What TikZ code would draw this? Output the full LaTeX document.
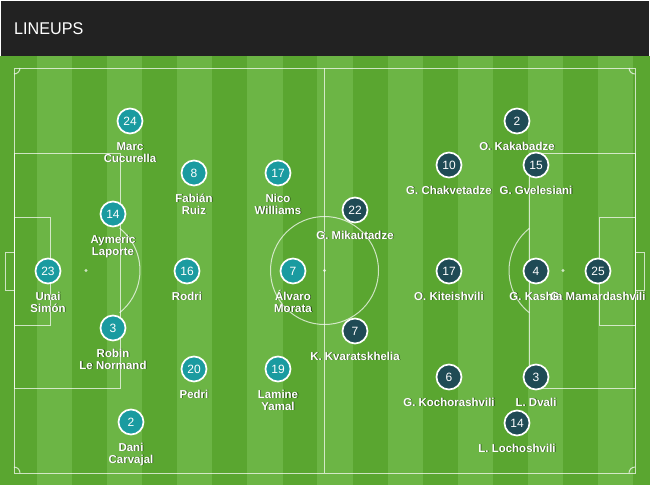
\documentclass[tikz,border=0pt]{standalone}
\usepackage{fontspec}
\setmainfont{Liberation Sans}
\usetikzlibrary{calc}
\definecolor{hdr}{HTML}{222222}
\definecolor{gdark}{HTML}{5AA630}
\definecolor{glight}{HTML}{6CB545}
\definecolor{esp}{HTML}{1A9BA0}
\definecolor{geo}{HTML}{1F4B55}
\tikzset{
  pline/.style={draw=white, draw opacity=0.7, line width=1pt},
  pspot/.style={fill=white, fill opacity=0.7},
  player/.style={circle, minimum size=25pt, inner sep=0pt, draw=white, line width=1.7pt,
    text=white, font=\fontsize{12}{12}\selectfont},
  lbl/.style={text=white, inner sep=0pt, anchor=base, font=\bfseries\fontsize{11.5}{12}\selectfont},
  lblshadow/.style={lbl, text=black, text opacity=0.55},
}
\begin{document}
\begin{tikzpicture}[x=1pt,y=-1pt]
\useasboundingbox (0,0) rectangle (650,485);
\fill[white] (0,0) rectangle (650,485);
% header
\fill[hdr] (1,1) rectangle (649,56);
\node[anchor=west, text=white, inner sep=0pt, xscale=0.95, font=\fontsize{17}{17}\selectfont] (title) at (14,28.5) {LINEUPS};
% pitch stripes
\fill[gdark] (0,56) rectangle (650,485);
\foreach \k in {0,...,8}{
  \fill[glight] ({37+70.1*\k},56) rectangle ({72.2+70.1*\k},485);
}
% pitch markings
\draw[pline] (14,68) rectangle (635,473);
\draw[pline] (324.5,68) -- (324.5,473);
\draw[pline] (324.5,270.5) circle (54);
\fill[pspot] (324.5,270.5) circle (1.6);
% left side
\draw[pline] (14,153) rectangle (120,388);
\draw[pline] (14,217) rectangle (50,325);
\draw[pline] (5,252) rectangle (14,290);
\fill[pspot] (86,270.5) circle (1.6);
\draw[pline] (119.6,228.2) arc[start angle=-51.5, end angle=51.5, radius=54];
% right side
\draw[pline] (529,153) rectangle (635,388);
\draw[pline] (599,217) rectangle (635,325);
\draw[pline] (635,252) rectangle (644,290);
\fill[pspot] (563,270.5) circle (1.6);
\draw[pline] (529.4,312.8) arc[start angle=128.5, end angle=231.5, radius=54];
% corner arcs
\draw[pline] (20,68) arc[start angle=0, end angle=90, radius=6];
\draw[pline] (629,68) arc[start angle=180, end angle=90, radius=6];
\draw[pline] (20,473) arc[start angle=0, end angle=-90, radius=6];
\draw[pline] (629,473) arc[start angle=180, end angle=270, radius=6];
% players: number circle and first label line
\foreach \id/\x/\y/\n/\c/\la in {
  e24/130/121/24/esp/Marc,
  e8/194/173/8/esp/Fabián,
  e17/278/173/17/esp/Nico,
  e14/113/214/14/esp/Aymeric,
  e23/48/271/23/esp/Unai,
  e16/187/271/16/esp/Rodri,
  e7/293/271/7/esp/Álvaro,
  e3/113/328/3/esp/Robin,
  e20/194/369/20/esp/Pedri,
  e19/278/369/19/esp/Lamine,
  e2/131/422/2/esp/Dani,
  g2/517/121/2/geo/O. Kakabadze,
  g10/449/165/10/geo/G. Chakvetadze,
  g15/536/165/15/geo/G. Gvelesiani,
  g22/355/210/22/geo/G. Mikautadze,
  g17/449/271/17/geo/O. Kiteishvili,
  g4/536/271/4/geo/G. Kashia,
  g25/598/271/25/geo/G. Mamardashvili,
  g7/355/331/7/geo/K. Kvaratskhelia,
  g6/449/377/6/geo/G. Kochorashvili,
  g3/536/377/3/geo/L. Dvali,
  g14/517/423/14/geo/L. Lochoshvili}{
  \node[player, fill=\c] (\id) at (\x,\y) {\n};
  \node[lblshadow] (\id s) at ($(\id)+(0.8,29.8)$) {\la};
  \node[lbl] (\id a) at ($(\id)+(0,29)$) {\la};
}
% second label lines
\foreach \id/\lb in {
  e24/Cucurella, e8/Ruiz, e17/Williams, e14/Laporte, e23/Simón,
  e7/Morata, e3/Le Normand, e19/Yamal, e2/Carvajal}{
  \node[lblshadow] (\id t) at ($(\id)+(0.8,41.8)$) {\lb};
  \node[lbl] (\id b) at ($(\id)+(0,41)$) {\lb};
}
\end{tikzpicture}
\end{document}
